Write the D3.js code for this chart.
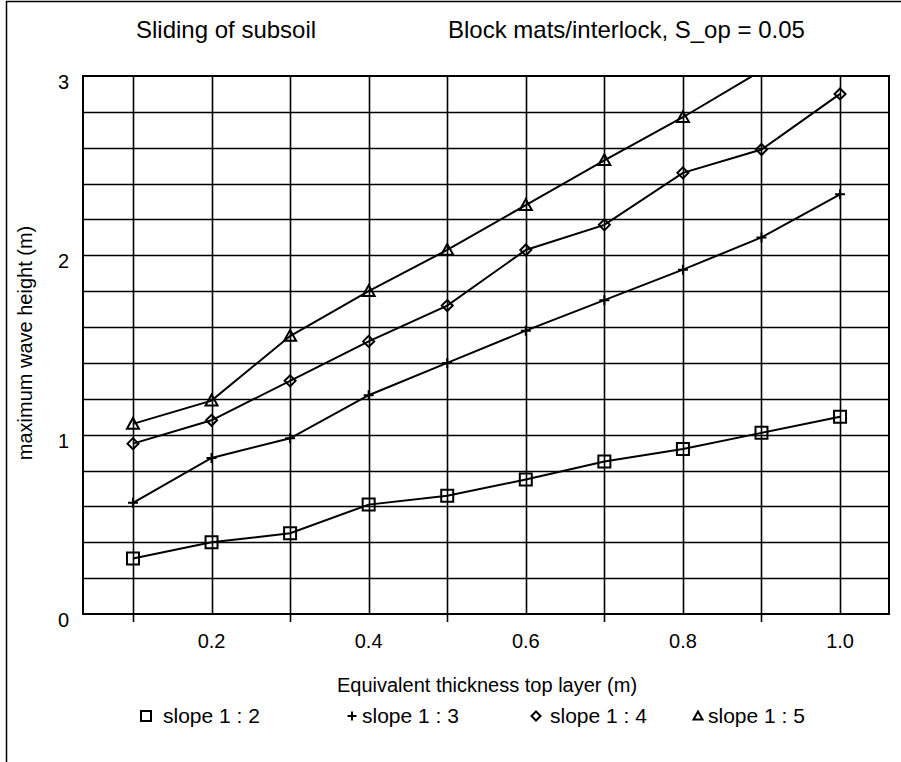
<!DOCTYPE html>
<html>
<head>
<meta charset="utf-8">
<script src="https://cdn.jsdelivr.net/npm/d3@7"></script>
<style>
  body { margin: 0; background: #fff; }
  text { font-family: "Liberation Sans", Arial, sans-serif; fill: #000; }
</style>
</head>
<body>
<script>
(function () {
  "use strict";
  var w = 901,
      h = 762;

  // data
  var thickness = [0.1, 0.2, 0.3, 0.4, 0.5, 0.6, 0.7, 0.8, 0.9, 1.0];
  var slope2 = [0.31, 0.40, 0.45, 0.61, 0.66, 0.75, 0.85, 0.92, 1.01, 1.10];
  var slope3 = [0.62, 0.87, 0.98, 1.22, 1.40, 1.58, 1.75, 1.92, 2.10, 2.34];
  var slope4 = [0.95, 1.08, 1.30, 1.52, 1.72, 2.03, 2.17, 2.46, 2.59, 2.90];
  var slope5 = [1.06, 1.19, 1.55, 1.80, 2.03, 2.28, 2.53, 2.77, 3.03];
  var seriesNames = ["slope 1 : 2", "slope 1 : 3", "slope 1 : 4", "slope 1 : 5"];
  var markers = ["square", "plus", "diamond", "triangle"];
  var xTicks = [0.2, 0.4, 0.6, 0.8, 1.0];
  var xTickMarks = [0.1, 0.3, 0.5, 0.7, 0.9];
  var yTicks = [0, 1, 2, 3];

  var series = [slope2, slope3, slope4, slope5].map(function (vals, i) {
    return {
      name: seriesNames[i],
      marker: markers[i],
      points: vals.map(function (v, j) { return [thickness[j], v]; })
    };
  });

  var left = 83, right = 889, top = 76, bottom = 614;

  var x = d3.scaleLinear().domain([0.0364, 1.0623]).range([left, right]);
  var y = d3.scaleLinear().domain([0, 3]).range([bottom, top]);

  var svg = d3.select("body").append("svg")
              .attr("width", w)
              .attr("height", h);

  // outer frame
  svg.append("path")
     .attr("d", "M6.5," + h + "V1.5H" + w)
     .attr("fill", "none")
     .attr("stroke", "#000")
     .attr("stroke-width", 1.5);

  svg.append("defs").append("clipPath").attr("id", "plotclip")
     .append("rect")
     .attr("x", left).attr("y", top)
     .attr("width", right - left).attr("height", bottom - top);

  // horizontal grid every 0.2
  svg.append("g").selectAll("line")
     .data(d3.range(0.2, 3.0, 0.2))
     .enter().append("line")
     .attr("x1", left).attr("x2", right)
     .attr("y1", d => Math.round(y(d)) + 0.5)
     .attr("y2", d => Math.round(y(d)) + 0.5)
     .attr("stroke", "#000")
     .attr("stroke-width", 1.6);

  // vertical grid at each thickness
  svg.append("g").selectAll("line")
     .data(thickness)
     .enter().append("line")
     .attr("x1", d => Math.round(x(d)) + 0.5)
     .attr("x2", d => Math.round(x(d)) + 0.5)
     .attr("y1", top).attr("y2", bottom)
     .attr("stroke", "#000")
     .attr("stroke-width", 1.6);

  // tick marks below the axis
  svg.append("g").selectAll("line")
     .data(xTickMarks)
     .enter().append("line")
     .attr("x1", d => Math.round(x(d)) + 0.5)
     .attr("x2", d => Math.round(x(d)) + 0.5)
     .attr("y1", bottom).attr("y2", bottom + 8)
     .attr("stroke", "#000")
     .attr("stroke-width", 1.6);

  // plot frame
  svg.append("rect")
     .attr("x", left).attr("y", top)
     .attr("width", right - left).attr("height", bottom - top)
     .attr("fill", "none")
     .attr("stroke", "#000")
     .attr("stroke-width", 2);

  // axis labels
  svg.append("g").selectAll("text")
     .data(xTicks)
     .enter().append("text")
     .attr("x", d => x(d))
     .attr("y", 648)
     .attr("text-anchor", "middle")
     .attr("font-size", 20)
     .text(d => d.toFixed(1));

  svg.append("g").selectAll("text")
     .data(yTicks)
     .enter().append("text")
     .attr("x", 69)
     .attr("y", d => y(d) + 13)
     .attr("text-anchor", "end")
     .attr("font-size", 20)
     .text(d => d);

  svg.append("text")
     .attr("x", 487).attr("y", 692)
     .attr("text-anchor", "middle")
     .attr("font-size", 20)
     .text("Equivalent thickness top layer (m)");

  svg.append("text")
     .attr("transform", "translate(32,343) rotate(-90)")
     .attr("text-anchor", "middle")
     .attr("font-size", 20)
     .text("maximum wave height (m)");

  svg.append("text")
     .attr("x", 136).attr("y", 38)
     .attr("font-size", 24)
     .text("Sliding of subsoil");

  svg.append("text")
     .attr("x", 448).attr("y", 38)
     .attr("font-size", 24)
     .text("Block mats/interlock, S_op = 0.05");

  function markerPath(type, s) {
    var r = s / 2;
    if (type === "square") return "M" + (-r) + "," + (-r) + "h" + s + "v" + s + "h" + (-s) + "Z";
    if (type === "plus") return "M" + (-r) + ",0h" + s + "M0," + (-r) + "v" + s;
    if (type === "diamond") return "M0," + (-r) + "L" + r + ",0L0," + r + "L" + (-r) + ",0Z";
    return "M0," + (-r) + "L" + r + "," + (r * 0.8) + "L" + (-r) + "," + (r * 0.8) + "Z";
  }
  var markerSize = { square: 12, plus: 10, diamond: 11, triangle: 12 };

  var line = d3.line().x(d => x(d[0])).y(d => y(d[1]));

  var plot = svg.append("g").attr("clip-path", "url(#plotclip)");

  var sg = plot.selectAll("g.series")
     .data(series)
     .enter().append("g").attr("class", "series");

  sg.append("path")
    .attr("d", d => line(d.points))
    .attr("fill", "none")
    .attr("stroke", "#000")
    .attr("stroke-width", 2);

  sg.selectAll("path.mk")
    .data(d => d.points.map(p => ({ p: p, m: d.marker })))
    .enter().append("path")
    .attr("class", "mk")
    .attr("transform", d => "translate(" + x(d.p[0]) + "," + y(d.p[1]) + ")")
    .attr("d", d => markerPath(d.m, markerSize[d.m]))
    .attr("fill", "none")
    .attr("stroke", "#000")
    .attr("stroke-width", 2);

  // legend
  var legendX = [146, 352, 536, 698];
  var legendTextX = [163, 362, 550, 708];
  var lg = svg.append("g").selectAll("g")
     .data(series)
     .enter().append("g");

  lg.append("path")
    .attr("transform", (d, i) => "translate(" + legendX[i] + ",716)")
    .attr("d", d => markerPath(d.marker, d.marker === "square" ? 10 : 9))
    .attr("fill", "none")
    .attr("stroke", "#000")
    .attr("stroke-width", 2);

  lg.append("text")
    .attr("x", (d, i) => legendTextX[i])
    .attr("y", 723)
    .attr("font-size", 21)
    .text(d => d.name);
})();
</script>
</body>
</html>
